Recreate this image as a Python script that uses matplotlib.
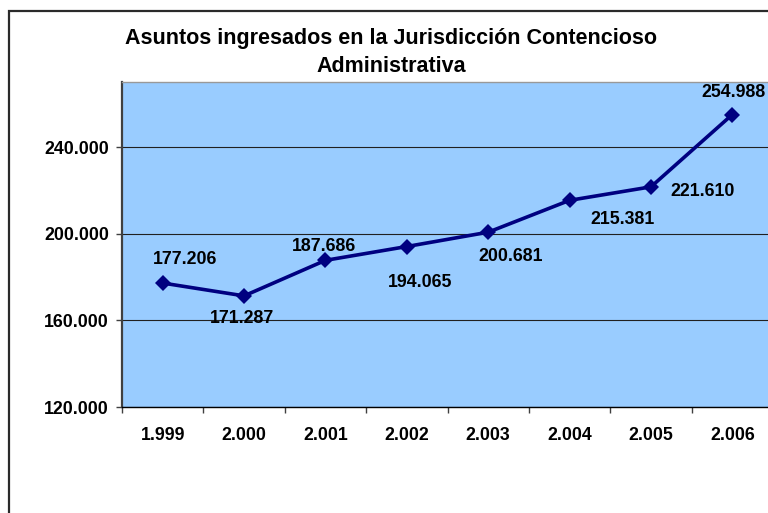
import matplotlib
matplotlib.use("Agg")
import matplotlib.pyplot as plt
from matplotlib.patches import Rectangle
from matplotlib.ticker import FixedLocator

years = ["1.999", "2.000", "2.001", "2.002", "2.003", "2.004", "2.005", "2.006"]
values = [177206, 171287, 187686, 194065, 200681, 215381, 221610, 254988]
value_labels = ["177.206", "171.287", "187.686", "194.065", "200.681", "215.381", "221.610", "254.988"]
yticks = [120000, 160000, 200000, 240000]
ytick_labels = ["120.000", "160.000", "200.000", "240.000"]
title_lines = ["Asuntos ingresados en la Jurisdicción Contencioso", "Administrativa"]

# label offsets in pixels (dx right, dy down)
offsets_px = [(22, -24), (-2, 23), (-1, -14), (13, 36), (22, 24), (53, 19), (52, 5), (1, -22)]

W, H = 768, 513
DPI = 100
plt.rcParams['font.family'] = ['Liberation Sans', 'DejaVu Sans']
plt.rcParams['font.weight'] = 'bold'

fig = plt.figure(figsize=(W / DPI, H / DPI), dpi=DPI)
fig.patch.set_facecolor('white')

# figure border
fig.patches.append(Rectangle((8.5 / W, -0.1), 1.2, (H - 11) / H + 0.1,
                             transform=fig.transFigure, fill=False,
                             edgecolor='#2a2a2a', linewidth=1.6, zorder=0))

ax = fig.add_axes([122 / W, 1 - 407 / H, 651 / W, 325 / H])
ax.set_facecolor('#99CCFF')
x = list(range(len(years)))
ax.plot(x, values, color='#000080', linewidth=2.6, marker='D', markersize=8,
        markeredgewidth=0, zorder=3, clip_on=False)

for xi, v, lab, (dx, dy) in zip(x, values, value_labels, offsets_px):
    ax.annotate(lab, (xi, v), xytext=(dx * 0.72, -dy * 0.72), textcoords='offset points',
                ha='center', va='center', fontsize=12.8, fontweight='bold', color='black',
                zorder=4)

ax.set_xlim(-0.5, len(years) - 0.5)
ax.set_ylim(120000, 270000)
ax.set_yticks(yticks)
ax.set_yticklabels(ytick_labels)
ax.set_xticks(x)
ax.set_xticklabels(years)
ax.xaxis.set_minor_locator(FixedLocator([i - 0.5 for i in range(len(years) + 1)]))
ax.tick_params(axis='x', which='major', length=0, pad=14.5, labelsize=12.8)
ax.tick_params(axis='x', which='minor', length=4, width=1, color='#404040', direction='out')
ax.tick_params(axis='y', which='major', length=4, width=1, color='#404040', pad=5.5,
               labelsize=12.8)
for t in ax.get_xticklabels() + ax.get_yticklabels():
    t.set_fontweight('bold')

ax.grid(axis='y', color='#202020', linewidth=0.8)
ax.set_axisbelow(True)
ax.spines['left'].set_color('#404040')
ax.spines['left'].set_linewidth(1.6)
ax.spines['bottom'].set_color('#000000')
ax.spines['bottom'].set_linewidth(1.0)
ax.spines['top'].set_color('#999999')
ax.spines['top'].set_linewidth(1.0)
ax.spines['right'].set_visible(False)

for line, ypx in zip(title_lines, [39, 67]):
    fig.text(391 / W, 1 - ypx / H, line, ha='center', va='center', fontsize=15.5,
             fontweight='bold')

fig.savefig('out.png', dpi=DPI)
